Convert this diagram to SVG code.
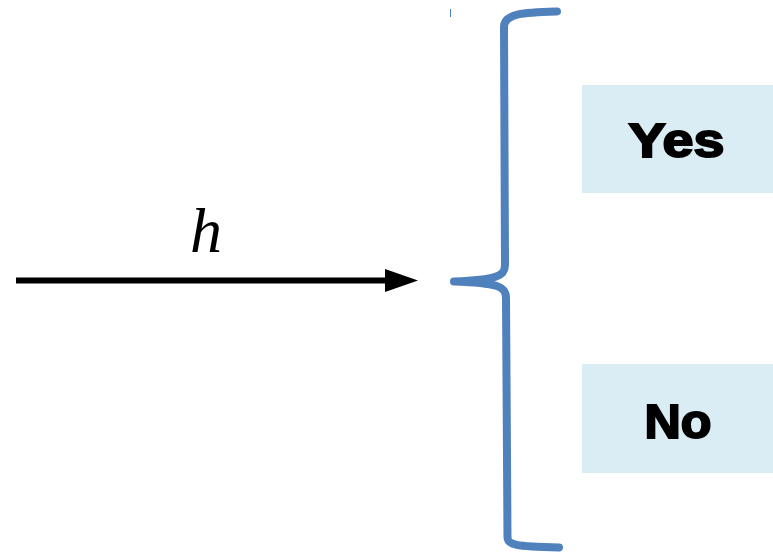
<svg xmlns="http://www.w3.org/2000/svg" width="773" height="552" viewBox="0 0 773 552">
<style>
.box{fill:#dbedf4;}
.lbl{font-family:"Liberation Sans",Arial,sans-serif;font-weight:bold;font-size:48px;fill:#000;stroke:#000;stroke-width:2px;text-anchor:middle;}
.brace{fill:none;stroke:#4f81bd;stroke-width:8;stroke-linecap:round;stroke-linejoin:round;}
</style>
<rect width="773" height="552" fill="#fff"/>
<g id="connectors">
<line x1="16" y1="280.5" x2="390" y2="280.5" stroke="#000" stroke-width="6"/>
<polygon points="385,269 418,280.5 385,292" fill="#000"/>
<text x="206" y="252" font-family="Liberation Serif,serif" font-style="italic" font-size="64" fill="#000" text-anchor="middle">h</text>
</g>
<g id="brace">
<line x1="450.5" y1="9" x2="450.5" y2="17" stroke="#4f81bd" stroke-width="1"/>
<path class="brace" d="M557,11.5 C525,12.5 504,13 504,27 L505,265 C505,276 497,280 454,281.5 C497,283 506,286 506,298 L507.5,537 C507.5,545 515,546.5 559,547.5"/>
</g>
<g id="yes">
<rect class="box" x="582" y="85" width="191" height="108"/>
<text class="lbl" x="676.5" y="157" textLength="96" lengthAdjust="spacingAndGlyphs">Yes</text>
</g>
<g id="no">
<rect class="box" x="582" y="364" width="191" height="109"/>
<text class="lbl" x="678" y="438" textLength="67" lengthAdjust="spacingAndGlyphs">No</text>
</g>
</svg>
